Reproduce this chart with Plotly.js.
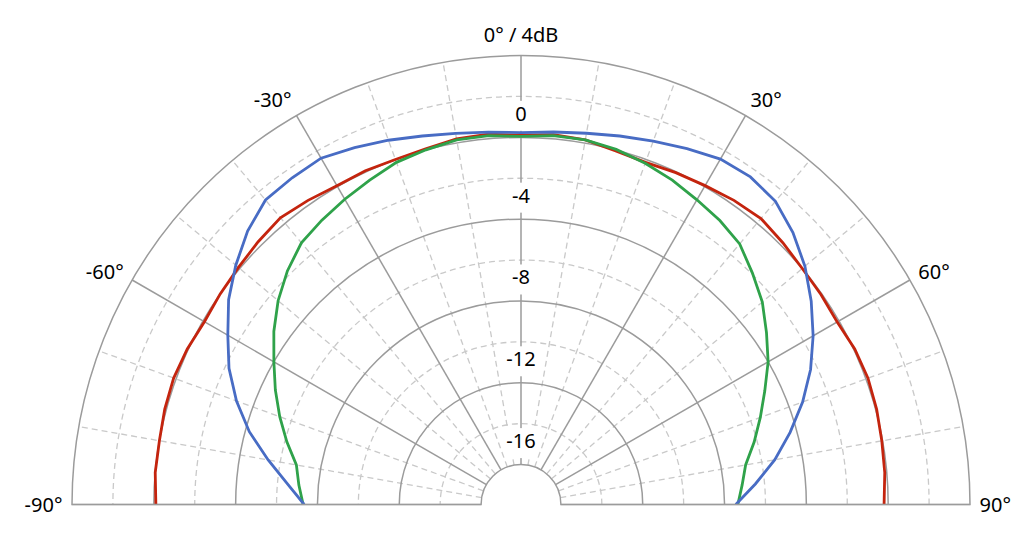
<!DOCTYPE html>
<html>
<head>
<meta charset="utf-8">
<script src="https://cdn.plot.ly/plotly-3.0.1.min.js"></script>
<style>
  html, body { margin: 0; padding: 0; background: #fff; }
  #polar-plot { width: 1035px; height: 537px; }
</style>
</head>
<body>
<div id="polar-plot"></div>
<script>
// angles in degrees, 0 = on axis, negative = left
const angles = [-90, -85, -80, -75, -70, -65, -60, -55, -50, -45, -40, -35, -30, -25, -20, -15, -10, -5, 0,
                5, 10, 15, 20, 25, 30, 35, 40, 45, 50, 55, 60, 65, 70, 75, 80, 85, 90]

// levels in dB
const blue_db = [-7.35, -6.5, -5.4, -4.2, -3.15, -2.2, -1.4, -0.5, 0.25, 0.95, 1.48, 1.55, 1.6, 1.3, 1.0, 0.7, 0.47, 0.32, 0.23,
                 0.33, 0.48, 0.7, 0.95, 1.25, 1.55, 1.6, 1.4, 0.85, 0.17, -0.63, -1.46, -2.33, -3.3, -4.33, -5.35, -6.45, -7.45]
const red_db = [-0.1, 0.0, 0.0, 0.08, 0.12, 0.05, -0.08, 0.0, 0.08, 0.22, 0.35, 0.2, 0.05, 0.05, 0.0, 0.05, 0.2, 0.22, 0.1,
                0.2, 0.15, -0.05, -0.15, -0.05, 0.05, 0.2, 0.3, 0.15, 0.0, -0.05, -0.1, 0.05, 0.1, 0.05, -0.04, -0.1, -0.2]
const green_db = [-7.3, -7.05, -6.8, -6.1, -5.4, -4.7, -4.0, -3.2, -2.45, -1.8, -1.25, -0.98, -0.72, -0.45, -0.15, 0.0, 0.15, 0.15, 0.05,
                  0.15, 0.15, 0.02, -0.2, -0.45, -0.75, -1.0, -1.32, -1.95, -2.55, -3.3, -4.0, -4.8, -5.5, -6.15, -6.8, -7.1, -7.35]

// axis ticks
const ring_ticks = [-16, -12, -8, -4, 0]
const ring_labels = ['-16', '-12', '-8', '-4', '0']
const minor_rings = [-14, -10, -6, -2, 2]
const spoke_ticks = [-60, -30, 0, 30, 60]
const spoke_labels = ['-60°', '-30°', '0° / 4dB', '30°', '60°']
const edge_ticks = [-90, 90]
const edge_labels = ['-90°', '90°']
const minor_spokes = [-80, -70, -50, -40, -20, -10, 10, 20, 40, 50, 70, 80]

const r_range = [-16, 4]
const hole = 40 / 450
const FONT = 'Noto Sans, Open Sans, sans-serif'
const GRID = '#9b9b9b'
const DASHED = '#c9c9c9'
const TICKFONT = { family: FONT, size: 20, color: '#000' }

function curve(r, color, sub) {
    return {
        type: 'scatterpolar',
        r: r,
        theta: angles,
        mode: 'lines',
        line: { color: color, width: 2.8 },
        subplot: sub,
        hoverinfo: 'skip',
        showlegend: false,
    }
}

// a polar subplot is only drawn when some trace sits on it
function emptyTrace(sub) {
    return { type: 'scatterpolar', r: [], theta: [], mode: 'lines', subplot: sub, hoverinfo: 'skip', showlegend: false }
}

// radial value labels sit on a white box just above their ring
const label_trace = {
    type: 'scatterpolar',
    r: ring_ticks.map(v => v + 1.05),
    theta: ring_ticks.map(() => 0),
    mode: 'markers+text',
    text: ring_labels,
    textposition: 'middle center',
    textfont: TICKFONT,
    marker: { symbol: 'square', size: 30, color: '#fff', line: { width: 0 } },
    subplot: 'polar3',
    hoverinfo: 'skip',
    showlegend: false,
}

const base_polar = {
    domain: { x: [72 / 1035, 970 / 1035], y: [1 - 505 / 537, 1 - 55 / 537] },
    sector: [0, 180],
    hole: hole,
    bgcolor: 'rgba(0,0,0,0)',
}

function polarLayer(opts) {
    return Object.assign({}, base_polar, opts)
}

const layout = {
    width: 1035,
    height: 537,
    margin: { l: 0, r: 0, t: 0, b: 0 },
    paper_bgcolor: '#fff',
    showlegend: false,
    font: { family: FONT, size: 20, color: '#000' },
    // dashed minor grid
    polar: polarLayer({
        angularaxis: {
            rotation: 90, direction: 'clockwise',
            tickmode: 'array', tickvals: minor_spokes, showticklabels: false, ticks: '',
            gridcolor: DASHED, griddash: '6px,4px', gridwidth: 1.3, showline: false,
        },
        radialaxis: {
            range: r_range, tickmode: 'array', tickvals: minor_rings, showticklabels: false, ticks: '',
            gridcolor: DASHED, griddash: '6px,4px', gridwidth: 1.3, showline: false,
        },
    }),
    // light base line along -90 / 90
    polar2: polarLayer({
        angularaxis: {
            rotation: 90, direction: 'clockwise',
            tickmode: 'array', tickvals: edge_ticks, ticktext: edge_labels,
            ticks: 'outside', ticklen: 5, tickcolor: 'rgba(0,0,0,0)',
            gridcolor: '#c4c4c4', gridwidth: 1.5, showline: false, tickfont: TICKFONT,
        },
        radialaxis: { range: r_range, showgrid: false, showticklabels: false, ticks: '', showline: false },
    }),
    // solid major grid, curves on top
    polar3: polarLayer({
        angularaxis: {
            rotation: 90, direction: 'clockwise',
            tickmode: 'array', tickvals: spoke_ticks, ticktext: spoke_labels,
            ticks: 'outside', ticklen: 5, tickcolor: 'rgba(0,0,0,0)',
            gridcolor: GRID, gridwidth: 1.5, showline: true, linecolor: GRID, linewidth: 1.5, tickfont: TICKFONT,
        },
        radialaxis: {
            range: r_range, tickmode: 'array', tickvals: ring_ticks, showticklabels: false, ticks: '',
            gridcolor: GRID, gridwidth: 1.5, showline: false,
        },
    }),
}

const data = [
    emptyTrace('polar'),
    emptyTrace('polar2'),
    label_trace,
    curve(red_db, '#c4240e', 'polar3'),
    curve(green_db, '#2fa24a', 'polar3'),
    curve(blue_db, '#486cc4', 'polar3'),
]

Plotly.newPlot('polar-plot', data, layout, { displayModeBar: false, staticPlot: true })
</script>
</body>
</html>
